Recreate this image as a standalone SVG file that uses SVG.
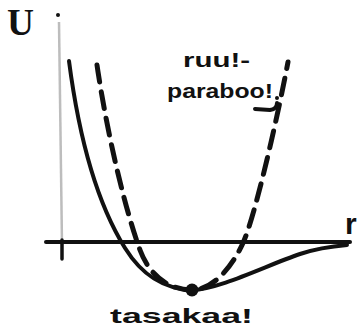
<svg xmlns="http://www.w3.org/2000/svg" width="361" height="331" viewBox="0 0 361 331">
<style>
.ink{fill:none;stroke:#111;stroke-linecap:round;stroke-linejoin:round}
.lbl{font-family:"Liberation Sans",Arial,sans-serif;font-weight:bold;fill:#111}
</style>
<rect width="361" height="331" fill="#fff"/>
<g id="axes">
<line x1="59" y1="22" x2="62" y2="245" stroke="#bdbdbd" stroke-width="2.5"/>
<line x1="62" y1="240" x2="62" y2="259" class="ink" stroke-width="3.5"/>
<line x1="46" y1="242" x2="350" y2="242" class="ink" stroke-width="4"/>
<circle cx="58" cy="15" r="2" fill="#111"/>
</g>
<g id="connectors">
<path id="parabola" class="ink" stroke-width="5" stroke-dasharray="17 10" d="M97,65 C108,140 127,215 140,250 C150,277 170,290 192,290 C214,290 233,265 243,243 C255,217 278,115 288,62"/>
<path id="potential" class="ink" stroke-width="4" d="M69,61 C78,130 95,200 125,248 C143,277 165,289 192,290 C220,289 265,266 300,254 C318,248 335,246 347,245"/>
<path id="hook" class="ink" stroke-width="4" d="M255,109 L270,110 Q277,109 277,103"/>
<circle cx="277" cy="98" r="2" fill="#111"/>
</g>
<g id="minimum">
<circle cx="192" cy="290" r="6.5" fill="#111"/>
</g>
<g id="labels">
<text x="7" y="35" font-family="'Liberation Serif',serif" font-weight="bold" font-size="38" fill="#111" textLength="27" lengthAdjust="spacingAndGlyphs">U</text>
<text class="lbl" x="345" y="234" font-size="30">r</text>
<text class="lbl" x="183" y="67" font-size="20" textLength="67" lengthAdjust="spacingAndGlyphs">ruu!-</text>
<text class="lbl" x="167" y="98" font-size="21" textLength="106" lengthAdjust="spacingAndGlyphs">paraboo!</text>
<text class="lbl" x="110" y="323" font-size="21" textLength="143" lengthAdjust="spacingAndGlyphs">tasakaa!</text>
</g>
</svg>
